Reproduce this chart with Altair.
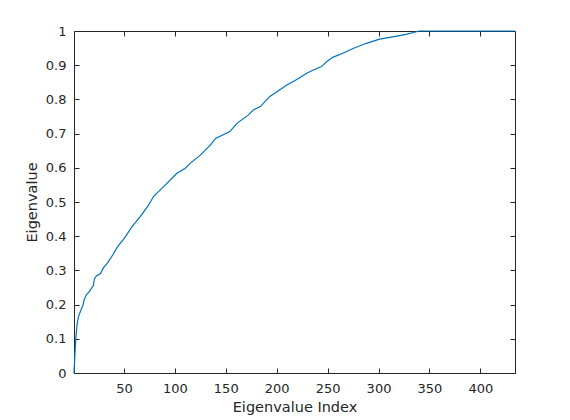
import altair as alt
import pandas as pd

# Eigenvalue index and (normalised, cumulative) eigenvalue
idx = [1, 2, 3, 4, 5, 6, 8, 10, 11, 13, 16, 19, 20, 21, 23, 27, 30, 34, 39, 44,
       50, 58, 66, 73, 75, 79, 89, 102, 110, 115, 125, 135, 140, 154, 161, 172,
       177, 184, 193, 210, 218, 223, 229, 236, 244, 249, 255, 265, 275, 288, 301,
       314, 327, 340, 434]
val = [0.0, 0.06, 0.11, 0.14, 0.16, 0.17, 0.185, 0.20, 0.215, 0.228, 0.238, 0.252,
       0.255, 0.275, 0.284, 0.291, 0.308, 0.322, 0.345, 0.37, 0.392, 0.428, 0.457,
       0.486, 0.495, 0.516, 0.545, 0.584, 0.598, 0.613, 0.637, 0.667, 0.686, 0.706,
       0.730, 0.754, 0.769, 0.779, 0.808, 0.842, 0.855, 0.864, 0.876, 0.886, 0.896,
       0.910, 0.923, 0.935, 0.949, 0.964, 0.976, 0.983, 0.990, 1.0, 1.0]

x_ticks = [50, 100, 150, 200, 250, 300, 350, 400]
y_ticks = [0, 0.1, 0.2, 0.3, 0.4, 0.5, 0.6, 0.7, 0.8, 0.9, 1]

df = pd.DataFrame({"idx": idx, "val": val})

AX = "#262626"
FONT = "DejaVu Sans"

xscale = alt.Scale(domain=[1, 434], nice=False, zero=False)
yscale = alt.Scale(domain=[0, 1], nice=False, zero=False)

common = dict(grid=False, domain=False, tickColor=AX, tickWidth=1, tickSize=5,
              offset=-5, labelColor=AX, labelFont=FONT, labelFontSize=13,
              titleColor=AX, titleFont=FONT, titleFontSize=14.5,
              titleFontWeight="normal", labelFlush=False, labelOverlap=False)

frame = alt.Chart(df).mark_line(opacity=0).encode(
    x=alt.X("idx:Q", scale=xscale,
            axis=alt.Axis(orient="top", values=x_ticks, labels=False, title=None,
                          **common)),
    y=alt.Y("val:Q", scale=yscale,
            axis=alt.Axis(orient="right", values=y_ticks, labels=False, title=None,
                          **common)),
)

main = alt.Chart(df).mark_line(color="#0072BD", strokeWidth=1.2).encode(
    x=alt.X("idx:Q", scale=xscale,
            axis=alt.Axis(orient="bottom", values=x_ticks, format="d",
                          title="Eigenvalue Index", labelPadding=9,
                          titlePadding=5, **common)),
    y=alt.Y("val:Q", scale=yscale,
            axis=alt.Axis(orient="left", values=y_ticks, format="~g",
                          title="Eigenvalue", labelPadding=8,
                          titlePadding=6, **common)),
)

chart = alt.layer(frame, main).resolve_axis(x="independent", y="independent").properties(
    width=441, height=342,
    autosize=alt.AutoSizeParams(type="none"),
    padding={"left": 66, "top": 23, "right": 47, "bottom": 45},
    background="white",
).configure_view(stroke=AX, strokeWidth=1)

chart.save("out.html", embed_options={"renderer": "svg", "actions": False})
